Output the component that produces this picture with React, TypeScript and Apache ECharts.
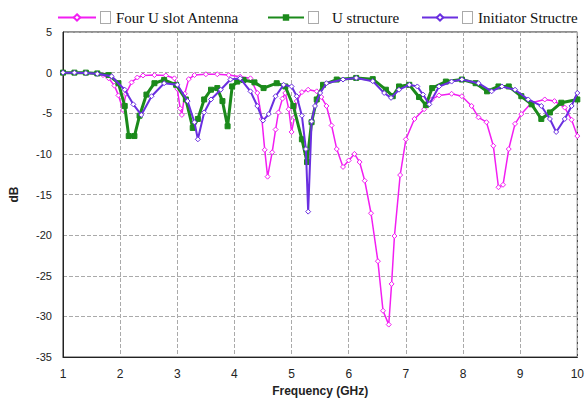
import React, { useEffect, useRef } from "react";
import * as echarts from "echarts";

const seriesNames = ["Four U slot Antenna", "U structure", "Initiator Structre"];

const fourUFreq = [1.0, 1.2, 1.4, 1.6, 1.7, 1.8, 1.9, 1.97, 2.05, 2.1, 2.2, 2.3, 2.4, 2.6, 2.8, 2.95, 3.0, 3.05, 3.08, 3.13, 3.2, 3.3, 3.5, 3.7, 3.9, 4.1, 4.28, 4.4, 4.48, 4.53, 4.58, 4.66, 4.72, 4.77, 4.84, 4.89, 4.95, 5.0, 5.05, 5.09, 5.18, 5.29, 5.44, 5.52, 5.61, 5.7, 5.79, 5.9, 6.0, 6.1, 6.19, 6.28, 6.39, 6.51, 6.6, 6.7, 6.75, 6.8, 6.9, 7.0, 7.15, 7.32, 7.45, 7.58, 7.8, 7.98, 8.15, 8.27, 8.41, 8.53, 8.62, 8.7, 8.8, 8.91, 9.02, 9.2, 9.43, 9.6, 9.78, 9.9, 10.0];
const fourUdB = [0, 0, -0.05, -0.1, -0.3, -0.7, -1.6, -2.8, -4.6, -2.6, -1.2, -0.6, -0.35, -0.3, -0.35, -0.7, -2.0, -4.4, -5.2, -2.6, -0.8, -0.3, -0.2, -0.2, -0.3, -0.5, -0.7, -2.5, -5.7, -9.5, -12.8, -9.8, -7.0, -4.9, -3.2, -2.5, -4.5, -7.3, -5.5, -3.5, -2.4, -2.1, -2.3, -3.0, -4.1, -6.5, -9.4, -11.6, -10.8, -10.0, -11.0, -13.3, -17.3, -23.2, -29.3, -31.0, -26.0, -20.1, -12.6, -8.2, -5.7, -4.5, -3.3, -2.8, -2.6, -2.9, -4.1, -5.5, -6.1, -9.0, -14.1, -13.8, -9.4, -6.3, -5.1, -3.7, -3.3, -3.5, -4.3, -5.8, -7.8];

const uStructFreq = [1.0, 1.2, 1.4, 1.6, 1.8, 1.97, 2.08, 2.15, 2.25, 2.34, 2.46, 2.6, 2.77, 2.98, 3.15, 3.27, 3.36, 3.47, 3.59, 3.7, 3.79, 3.88, 3.96, 4.05, 4.16, 4.35, 4.51, 4.74, 4.89, 5.03, 5.18, 5.27, 5.35, 5.44, 5.55, 5.79, 6.13, 6.42, 6.65, 6.77, 6.88, 7.06, 7.23, 7.35, 7.46, 7.7, 7.98, 8.22, 8.42, 8.62, 8.8, 9.02, 9.2, 9.37, 9.52, 9.72, 10.0];
const uStructdB = [0, 0, 0, -0.1, -0.3, -1.3, -4.1, -7.8, -7.8, -5.3, -2.7, -1.3, -0.9, -1.5, -3.3, -6.8, -5.7, -3.3, -2.1, -1.9, -3.5, -6.6, -1.7, -1.1, -0.9, -1.2, -1.9, -1.3, -1.7, -4.1, -8.2, -11.0, -6.1, -3.3, -1.5, -0.85, -0.65, -0.8, -2.1, -2.9, -1.7, -1.5, -3.0, -4.0, -1.9, -1.1, -0.85, -1.3, -2.3, -1.7, -1.7, -2.9, -3.9, -5.7, -4.9, -3.7, -3.3];

const initFreq = [1.0, 1.2, 1.4, 1.6, 1.85, 2.08, 2.23, 2.37, 2.55, 2.77, 3.0, 3.18, 3.3, 3.36, 3.47, 3.59, 3.76, 3.93, 4.1, 4.28, 4.4, 4.5, 4.6, 4.72, 4.86, 5.0, 5.09, 5.18, 5.25, 5.29, 5.35, 5.41, 5.5, 5.61, 5.9, 6.13, 6.42, 6.62, 6.74, 6.88, 7.06, 7.2, 7.3, 7.41, 7.58, 7.8, 7.98, 8.27, 8.5, 8.68, 8.91, 9.14, 9.37, 9.52, 9.63, 9.78, 9.9, 10.0];
const initdB = [0, 0, -0.05, -0.15, -0.45, -2.1, -3.9, -5.2, -2.9, -1.3, -1.5, -3.5, -6.1, -8.2, -4.9, -3.3, -2.1, -0.85, -0.7, -2.3, -4.1, -5.9, -5.1, -2.9, -1.5, -1.7, -2.9, -5.3, -9.4, -17.1, -6.0, -4.1, -2.5, -1.3, -0.85, -0.65, -1.05, -2.5, -3.1, -2.1, -1.5, -1.7, -2.7, -3.9, -1.7, -1.1, -0.85, -1.3, -2.3, -1.7, -2.1, -3.3, -4.1, -5.7, -7.3, -5.7, -4.1, -2.5];

const xTicks = { min: 1, max: 10, interval: 1 };
const yTicks = { min: -35, max: 5, interval: 5 };

const pairs = (xs: number[], ys: number[]) => xs.map((x, i) => [x, ys[i]]);

export default function App() {
  const ref = useRef<HTMLDivElement>(null);
  useEffect(() => {
    if (!ref.current) return;
    const chart = echarts.init(ref.current, undefined, { renderer: "svg" });
    const legendBase = (name: string, left: number, itemWidth: number, sp: number) => ({
      data: [name],
      left,
      top: 5,
      itemWidth,
      itemHeight: 8,
      itemGap: 0,
      selectedMode: false,
      formatter: (n: string) => `{box|}{sp|}${n}`,
      textStyle: {
        fontFamily: "Liberation Serif",
        fontSize: 15,
        color: "#111",
        rich: {
          box: { width: 9, height: 11, borderColor: "#aaa", borderWidth: 1, backgroundColor: "#fff" },
          sp: { width: sp },
        },
      },
    });
    chart.setOption({
      animation: false,
      backgroundColor: "#fff",
      legend: [
        legendBase(seriesNames[0], 52, 38, 6),
        legendBase(seriesNames[1], 262, 36, 14),
        legendBase(seriesNames[2], 416, 36, 6),
      ],
      grid: { left: 61, right: 8, top: 32, bottom: 42, show: true, borderColor: "#222", borderWidth: 1, backgroundColor: "transparent" },
      xAxis: {
        type: "value",
        min: xTicks.min,
        max: xTicks.max,
        interval: xTicks.interval,
        name: "Frequency (GHz)",
        nameLocation: "middle",
        nameGap: 25,
        nameTextStyle: { fontFamily: "Liberation Sans", fontSize: 12, fontWeight: "bold", color: "#222" },
        axisLine: { show: true, onZero: false, lineStyle: { color: "#222" } },
        axisTick: { show: false },
        axisLabel: { fontFamily: "Liberation Sans", fontSize: 12, color: "#222", margin: 11 },
        splitLine: { show: true, lineStyle: { type: "dashed", color: "#aaa" } },
      },
      yAxis: {
        type: "value",
        min: yTicks.min,
        max: yTicks.max,
        interval: yTicks.interval,
        name: "dB",
        nameLocation: "middle",
        nameGap: 43,
        nameRotate: 90,
        nameTextStyle: { fontFamily: "Liberation Sans", fontSize: 12, fontWeight: "bold", color: "#222" },
        axisLine: { show: true, onZero: false, lineStyle: { color: "#222" } },
        axisTick: { show: false },
        axisLabel: { fontFamily: "Liberation Sans", fontSize: 11, color: "#222", margin: 11 },
        splitLine: { show: true, lineStyle: { type: "dashed", color: "#aaa" } },
      },
      series: [
        {
          name: seriesNames[0],
          type: "line",
          data: pairs(fourUFreq, fourUdB),
          symbol: "diamond",
          symbolSize: 5,
          showAllSymbol: true,
          lineStyle: { color: "#f21ef2", width: 1.5 },
          itemStyle: { color: "#fff", borderColor: "#f21ef2", borderWidth: 1 },
          z: 2,
        },
        {
          name: seriesNames[1],
          type: "line",
          data: pairs(uStructFreq, uStructdB),
          symbol: "rect",
          symbolSize: 5,
          showAllSymbol: true,
          lineStyle: { color: "#1b8a1b", width: 3 },
          itemStyle: { color: "#1b8a1b", borderColor: "#1b8a1b" },
          z: 3,
        },
        {
          name: seriesNames[2],
          type: "line",
          data: pairs(initFreq, initdB),
          symbol: "diamond",
          symbolSize: 5,
          showAllSymbol: true,
          lineStyle: { color: "#6a2fe0", width: 2 },
          itemStyle: { color: "#fff", borderColor: "#6a2fe0", borderWidth: 1 },
          z: 4,
        },
      ],
    });
    return () => chart.dispose();
  }, []);
  return <div ref={ref} style={{ width: 587, height: 402, position: "absolute", left: 0, top: 0 }} />;
}
